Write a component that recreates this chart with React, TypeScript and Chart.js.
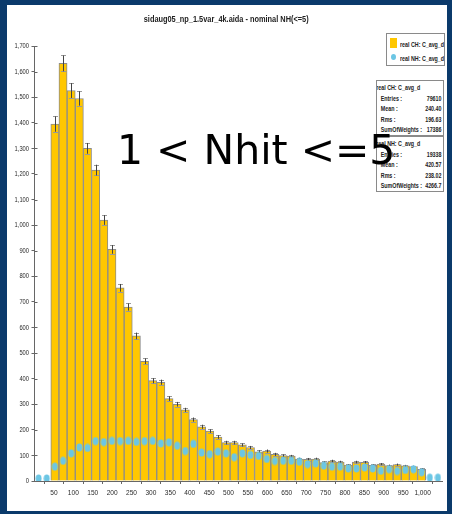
import React, { useEffect, useRef } from "react";
import { Chart, registerables } from "chart.js";
Chart.register(...registerables);

const BIN_WIDTH = 21;
const X_MAX = 1050;
const Y_MAX = 1700;
const Y_STEP = 100;
const xTickValues = [50, 100, 150, 200, 250, 300, 350, 400, 450, 500, 550, 600, 650, 700, 750, 800, 850, 900, 950, 1000];

// real CH: histogram bins 2..47 (bin width 21)
const chFirstBin = 2;
const chValues = [
  1395, 1632, 1526, 1495, 1300, 1215, 1020, 905, 755, 680,
  567, 468, 392, 386, 322, 300, 278, 240, 212, 195,
  172, 150, 150, 141, 131, 114, 117, 104, 99, 97,
  86, 85, 86, 72, 78, 74, 62, 74, 73, 61,
  66, 60, 64, 59, 56, 46,
];
const chErrors = [
  30, 31, 29, 28, 21, 21, 19, 17, 15, 14,
  13, 11, 10, 10, 9, 9, 8, 8, 8, 7,
  7, 7, 7, 6, 6, 6, 6, 6, 5, 5,
  5, 5, 5, 5, 5, 5, 4, 5, 5, 4,
  4, 4, 4, 4, 4, 4,
];
// real NH: bins 0..49
const nhValues = [
  10, 10, 56, 79, 108, 131, 129, 156, 152, 157,
  156, 157, 153, 156, 157, 147, 151, 138, 117, 145,
  111, 105, 115, 108, 93, 108, 102, 98, 86, 78,
  79, 79, 75, 66, 69, 60, 56, 56, 49, 49,
  53, 49, 40, 46, 39, 43, 46, 34, 13, 13,
];

const chStats = [
  ["Entries :", "79610"],
  ["Mean :", "240.40"],
  ["Rms :", "196.63"],
  ["SumOfWeights :", "17386"],
];
const nhStats = [
  ["Entries :", "19338"],
  ["Mean :", "420.57"],
  ["Rms :", "238.02"],
  ["SumOfWeights :", "4266.7"],
];

const TITLE = "sidaug05_np_1.5var_4k.aida - nominal NH(<=5)";
const CH_LABEL = "real CH: C_avg_d";
const NH_LABEL = "real NH: C_avg_d";
const OVERLAY = "1 < Nhit <=5";

const NAVY = "#0b3a6b";
const GOLD = "#ffc700";
const BLUE = "#6cc6e4";
const AXIS = "#666666";
const SANS = '"Liberation Sans", Arial, sans-serif';
const SQUEEZE = 0.76;

const errorBars = {
  id: "errorBars",
  afterDatasetDraw(chart: any, args: any) {
    if (args.index !== 1) return;
    const ctx = chart.ctx;
    const ys = chart.scales.y;
    ctx.save();
    args.meta.data.forEach((el: any, i: number) => {
      const v = chValues[i];
      const e = chErrors[i];
      const x = Math.round(el.x) + 0.5;
      const yt = ys.getPixelForValue(v + e);
      const yb = ys.getPixelForValue(v - e);
      ctx.strokeStyle = "#9a9a9a";
      ctx.lineWidth = 1;
      ctx.beginPath();
      ctx.moveTo(x - 2.5, Math.round(yt) + 0.5);
      ctx.lineTo(x + 2.5, Math.round(yt) + 0.5);
      ctx.moveTo(x - 2.5, Math.round(yb) + 0.5);
      ctx.lineTo(x + 2.5, Math.round(yb) + 0.5);
      ctx.stroke();
      ctx.strokeStyle = "#444444";
      ctx.beginPath();
      ctx.moveTo(x, yt);
      ctx.lineTo(x, yb);
      ctx.stroke();
    });
    ctx.restore();
  },
};

// inner tick marks + horizontally condensed tick labels
const axisDecor = {
  id: "axisDecor",
  afterDraw(chart: any) {
    const ctx = chart.ctx;
    const { left, bottom } = chart.chartArea;
    const xs = chart.scales.x;
    const ys = chart.scales.y;
    ctx.save();
    ctx.strokeStyle = AXIS;
    ctx.lineWidth = 1;
    ctx.beginPath();
    ys.ticks.forEach((t: any) => {
      const y = Math.round(ys.getPixelForValue(t.value)) + 0.5;
      ctx.moveTo(left, y);
      ctx.lineTo(left + 3, y);
    });
    ctx.stroke();
    ctx.fillStyle = "#2a2a2a";
    ctx.font = `8px ${SANS}`;
    ctx.textBaseline = "middle";
    ys.ticks.forEach((t: any) => {
      const y = ys.getPixelForValue(t.value);
      ctx.save();
      ctx.translate(left - 5.5, y);
      ctx.scale(0.72, 1);
      ctx.textAlign = "right";
      ctx.fillText(t.value.toLocaleString("en-US"), 0, 0);
      ctx.restore();
    });
    xs.ticks.forEach((t: any) => {
      const x = xs.getPixelForValue(t.value);
      ctx.save();
      ctx.translate(x, bottom + 12);
      ctx.scale(0.82, 1);
      ctx.textAlign = "center";
      ctx.fillText(t.value.toLocaleString("en-US"), 0, 0);
      ctx.restore();
    });
    ctx.restore();
  },
};

export default function App() {
  const ref = useRef<HTMLCanvasElement>(null);
  useEffect(() => {
    document.body.style.margin = "0";
    const dot = document.createElement("canvas");
    dot.width = 7;
    dot.height = 9;
    const d = dot.getContext("2d")!;
    d.fillStyle = BLUE;
    d.beginPath();
    d.ellipse(3.5, 4.5, 3, 3.9, 0, 0, Math.PI * 2);
    d.fill();

    const chData = chValues.map((v, i) => ({ x: (chFirstBin + i + 0.5) * BIN_WIDTH, y: v }));
    const nhData = nhValues.map((v, i) => ({ x: (i + 0.5) * BIN_WIDTH, y: v }));

    const chart = new Chart(ref.current!, {
      type: "bar",
      data: {
        datasets: [
          {
            type: "line",
            label: NH_LABEL,
            data: nhData,
            showLine: false,
            pointStyle: dot as any,
            pointRadius: 4,
            order: 1,
          } as any,
          {
            type: "bar",
            label: CH_LABEL,
            data: chData,
            backgroundColor: GOLD,
            borderColor: "#8c8c8c",
            borderWidth: 1,
            barPercentage: 1,
            categoryPercentage: 1,
            order: 2,
          } as any,
        ],
      },
      options: {
        animation: false,
        responsive: false,
        layout: { padding: { top: 41, right: 3.6, left: 0, bottom: 0 } },
        plugins: { legend: { display: false }, title: { display: false }, tooltip: { enabled: false } },
        scales: {
          x: {
            type: "linear",
            min: 0,
            max: X_MAX,
            offset: false,
            afterBuildTicks: (axis: any) => {
              axis.ticks = xTickValues.map((v) => ({ value: v }));
            },
            afterFit: (s: any) => {
              s.height = 29;
            },
            grid: { drawOnChartArea: false, drawTicks: true, tickLength: 3, color: AXIS },
            border: { display: true, color: AXIS },
            ticks: { color: "rgba(0,0,0,0)", font: { family: SANS, size: 8 }, padding: 3, maxRotation: 0, autoSkip: false },
          },
          y: {
            type: "linear",
            min: 0,
            max: Y_MAX,
            afterFit: (s: any) => {
              s.width = 27.5;
            },
            grid: { drawOnChartArea: false, drawTicks: true, tickLength: 3, color: AXIS },
            border: { display: true, color: AXIS },
            ticks: { stepSize: Y_STEP, color: "rgba(0,0,0,0)", font: { family: SANS, size: 8 }, padding: 2 },
          },
        },
      },
      plugins: [errorBars, axisDecor],
    });
    return () => chart.destroy();
  }, []);

  const boxFont: React.CSSProperties = {
    fontFamily: SANS,
    fontSize: 7,
    fontWeight: "bold",
    color: "#222",
    lineHeight: "10.5px",
  };

  const statBox = (top: number, header: string, rows: string[][]) => (
    <div
      style={{
        position: "absolute",
        left: 376,
        top,
        width: 68,
        height: 56,
        border: "1px solid #8a8a8a",
        background: "#fff",
        boxSizing: "border-box",
        overflow: "hidden",
      }}
    >
      <div
        style={{
          ...boxFont,
          width: 66 / SQUEEZE,
          transform: `scaleX(${SQUEEZE})`,
          transformOrigin: "0 0",
          marginTop: 2,
        }}
      >
        <div style={{ whiteSpace: "nowrap", marginLeft: -1 }}>{header}</div>
        {rows.map(([k, v]) => (
          <div key={k} style={{ display: "flex", justifyContent: "space-between", paddingLeft: 5, paddingRight: 2, whiteSpace: "nowrap" }}>
            <span>{k}</span>
            <span>{v}</span>
          </div>
        ))}
      </div>
    </div>
  );

  return (
    <div style={{ position: "relative", width: 452, height: 514, background: NAVY, overflow: "hidden" }}>
      <div style={{ position: "absolute", left: 7, top: 5, width: 440, height: 506, background: "#fff" }}>
        <canvas ref={ref} width={440} height={505} style={{ position: "absolute", left: 0, top: 0, width: 440, height: 505 }} />
      </div>
      <div
        style={{
          position: "absolute",
          left: 0,
          top: 14,
          width: 452,
          textAlign: "center",
          fontFamily: SANS,
          fontSize: 9,
          fontWeight: "bold",
          color: "#222",
          lineHeight: "11px",
          transform: "scaleX(0.82)",
          transformOrigin: "227px 0",
          whiteSpace: "nowrap",
        }}
      >
        {TITLE}
      </div>
      <div
        style={{
          position: "absolute",
          left: 386,
          top: 33,
          width: 59,
          height: 33,
          border: "1px solid #8a8a8a",
          boxSizing: "border-box",
          background: "#fff",
        }}
      >
        <div style={{ position: "absolute", left: 3, top: 4, width: 7, height: 10, background: GOLD }} />
        <div style={{ position: "absolute", left: 4, top: 20, width: 5, height: 6, borderRadius: "50%", background: BLUE }} />
        <div
          style={{
            ...boxFont,
            position: "absolute",
            left: 13,
            top: 4,
            lineHeight: "14px",
            whiteSpace: "nowrap",
            transform: `scaleX(${SQUEEZE})`,
            transformOrigin: "0 0",
          }}
        >
          <div>{CH_LABEL}</div>
          <div>{NH_LABEL}</div>
        </div>
      </div>
      {statBox(80, CH_LABEL, chStats)}
      {statBox(136, NH_LABEL, nhStats)}
      <div
        style={{
          position: "absolute",
          left: 117,
          top: 126,
          fontFamily: '"DejaVu Sans", sans-serif',
          fontSize: 41,
          lineHeight: "48px",
          color: "#000",
          whiteSpace: "pre",
        }}
      >
        {OVERLAY}
      </div>
    </div>
  );
}
